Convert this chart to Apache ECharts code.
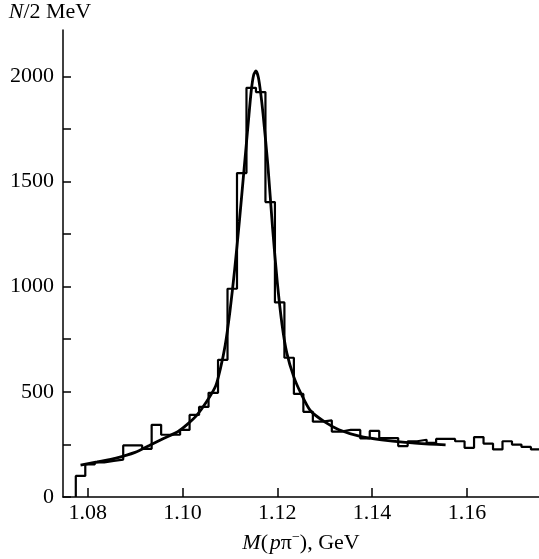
<!DOCTYPE html>
<html>
<head>
<meta charset="utf-8">
<script src="https://cdn.jsdelivr.net/npm/echarts@6/dist/echarts.min.js"></script>
<style>
html,body{margin:0;padding:0;background:#fff;}
#chart{width:539px;height:559px;}
</style>
</head>
<body>
<div id="chart"></div>
<script>
// Histogram: 2 MeV bins
const binStart = 1.0775;
const binWidth = 0.002;
const counts = [100, 155, 165, 172, 178, 245, 245, 229, 343, 296,
                296, 319, 390, 428, 495, 652, 990, 1540, 1945, 1925,
                1402, 925, 662, 490, 405, 358, 364, 311, 319, 319,
                278, 314, 280, 280, 242, 265, 272, 257, 276, 276,
                265, 234, 285, 254, 226, 265, 249, 238, 226];

// Fitted curve
const curveX = [1.0785, 1.082, 1.086, 1.090, 1.093, 1.096, 1.099, 1.101, 1.103, 1.105,
                1.107, 1.108, 1.109, 1.110, 1.111, 1.112, 1.113, 1.114, 1.1145, 1.115,
                1.1155, 1.116, 1.1165, 1.117, 1.118, 1.119, 1.120, 1.121, 1.122, 1.1235,
                1.125, 1.127, 1.130, 1.133, 1.1375, 1.142, 1.147, 1.152, 1.1555];
const curveY = [152, 167, 185, 212, 245, 278, 310, 345, 388, 450,
                528, 610, 720, 880, 1080, 1310, 1560, 1810, 1930, 2005,
                2025, 1995, 1920, 1820, 1580, 1280, 1020, 820, 685, 570,
                492, 410, 357, 320, 288, 272, 260, 252, 248];

const xTicks = [1.08, 1.10, 1.12, 1.14, 1.16];
const yTicks = [0, 250, 500, 750, 1000, 1250, 1500, 1750, 2000];
const yLabels = [0, 500, 1000, 1500, 2000];

const histData = [[binStart, 0]];
counts.forEach((c, k) => histData.push([binStart + k * binWidth, c]));
histData.push([binStart + counts.length * binWidth, counts[counts.length - 1]]);
const curveData = curveX.map((x, i) => [x, curveY[i]]);

const font = 'Liberation Serif';
const chart = echarts.init(document.getElementById('chart'), null, {renderer: 'canvas'});
chart.setOption({
  animation: false,
  backgroundColor: '#fff',
  grid: {left: 63, right: 0, top: 30, bottom: 54, containLabel: false},
  xAxis: {
    type: 'value', min: 1.0748, max: 1.1752,
    splitLine: {show: false},
    axisLine: {lineStyle: {color: '#000', width: 1.5}},
    axisTick: {inside: true, length: 9, customValues: xTicks, lineStyle: {color: '#000', width: 1.5}},
    axisLabel: {customValues: xTicks, formatter: v => v.toFixed(2), color: '#000',
                fontFamily: font, fontSize: 22, margin: 5},
    name: '{i|M}(\u200a{i|p}π{sup|−}), GeV',
    nameLocation: 'middle', nameGap: 33,
    nameTextStyle: {color: '#000', fontFamily: font, fontSize: 22,
      rich: {i: {fontStyle: 'italic', fontFamily: font, fontSize: 22, color: '#000'},
             sup: {fontFamily: font, fontSize: 14, color: '#000', padding: [0, 0, 12, 0]}}}
  },
  yAxis: {
    type: 'value', min: 0, max: 2220,
    splitLine: {show: false},
    axisLine: {lineStyle: {color: '#000', width: 1.5}},
    axisTick: {inside: true, length: 8, customValues: yTicks, lineStyle: {color: '#000', width: 1.5}},
    axisLabel: {customValues: yLabels, formatter: v => String(v), color: '#000',
                fontFamily: font, fontSize: 22, margin: 9},
    name: '{i|N}/2 MeV',
    nameLocation: 'end', nameGap: 7,
    nameTextStyle: {color: '#000', fontFamily: font, fontSize: 22, align: 'center', padding: [0, 26, 0, 0],
      rich: {i: {fontStyle: 'italic', fontFamily: font, fontSize: 22, color: '#000'}}}
  },
  series: [
    {type: 'line', data: histData, step: 'end', symbol: 'none',
     lineStyle: {color: '#000', width: 2.2}},
    {type: 'line', data: curveData, smooth: 0.25, symbol: 'none',
     lineStyle: {color: '#000', width: 2.8}}
  ]
});
</script>
</body>
</html>
